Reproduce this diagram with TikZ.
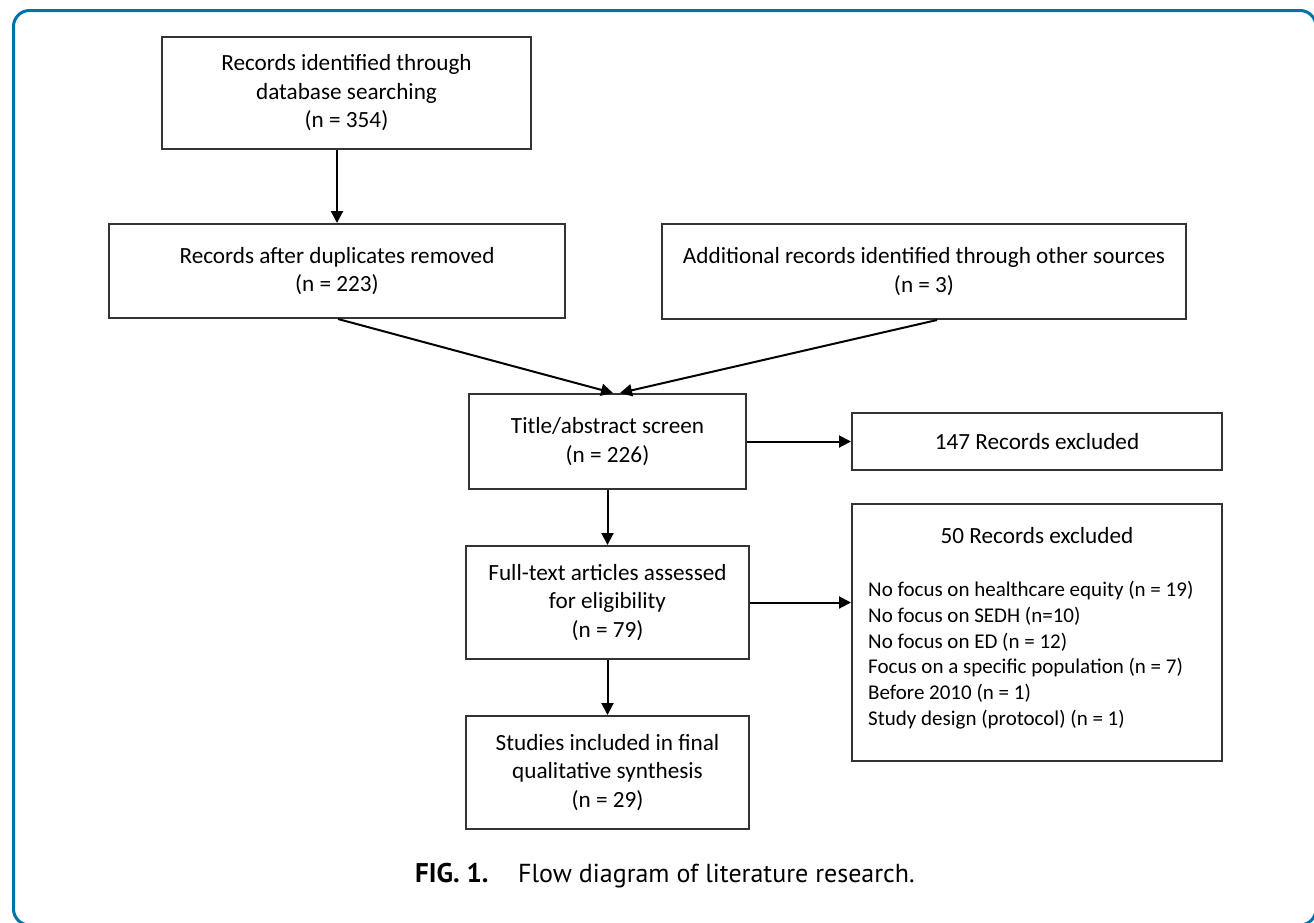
\documentclass[tikz,border=0pt]{standalone}
\usepackage{fontspec}
\setmainfont{Carlito}
\newfontfamily\capfont{PT Sans}
\usetikzlibrary{arrows.meta}
\definecolor{frameblue}{HTML}{0072AD}
\definecolor{boxline}{HTML}{333333}
\begin{document}
\begin{tikzpicture}[x=1pt,y=-1pt,
  box/.style={draw=boxline, line width=2pt, align=center, inner sep=0pt,
    font=\fontsize{23.2}{28.5}\selectfont},
  arr/.style={draw=black, line width=2pt, -{Triangle[length=12pt,width=12pt]}},
  listtext/.style={inner sep=0pt, font=\fontsize{21}{25.8}\selectfont},
  titletext/.style={inner sep=0pt, font=\fontsize{23.2}{28.5}\selectfont},
  capbold/.style={inner sep=0pt, font=\capfont\bfseries\fontsize{27}{30}\selectfont},
  capplain/.style={inner sep=0pt, font=\capfont\fontsize{26}{30}\selectfont}
]
\useasboundingbox (0,0) rectangle (1314,922);
\begin{scope}
  \clip (0,0) rectangle (1314,922);
  \draw[frameblue, line width=3pt, rounded corners=16pt] (13.5,10.5) rectangle (1316,925);
\end{scope}

\node[box, minimum width=369pt, minimum height=112pt] (b1) at (346.5,93)
  {Records identified through\\database searching\\(n = 354)};
\node[box, minimum width=456pt, minimum height=94pt] (b2) at (337,271)
  {Records after duplicates removed\\(n = 223)};
\node[box, minimum width=524pt, minimum height=95pt] (b3) at (924,271.5)
  {Additional records identified through other sources\\(n = 3)};
\node[box, minimum width=277pt, minimum height=95pt] (b4) at (607.5,441.5)
  {Title/abstract screen\\(n = 226)};
\node[box, minimum width=370pt, minimum height=57pt] (b5) at (1037,441.5)
  {147 Records excluded};
\node[box, minimum width=283pt, minimum height=113pt] (b6) at (607.5,602.5)
  {Full-text articles assessed\\for eligibility\\(n = 79)};
\node[box, minimum width=370pt, minimum height=257pt] (b7) at (1037,632.5) {};
\node[titletext, anchor=base] (b7t) at (1037,543) {50 Records excluded};
\node[listtext, anchor=north west, align=left] (b7l) at (868,581)
  {No focus on healthcare equity (n = 19)\\
   No focus on SEDH (n=10)\\
   No focus on ED (n = 12)\\
   Focus on a specific population (n = 7)\\
   Before 2010 (n = 1)\\
   Study design (protocol) (n = 1)};
\node[box, minimum width=283pt, minimum height=113pt] (b8) at (607.5,772.5)
  {Studies included in final\\qualitative synthesis\\(n = 29)};

\draw[arr] (b1.south -| b2.north) -- (b2.north);
\draw[arr] ([xshift=1pt]b2.south) -- ([xshift=5.5pt]b4.north);
\draw[arr] ([xshift=13pt]b3.south) -- ([xshift=12.5pt]b4.north);
\draw[arr] (b4.east) -- (b5.west);
\draw[arr] (b4.south) -- (b6.north);
\draw[arr] (b6.east) -- (b6.east -| b7.west);
\draw[arr] (b6.south) -- (b8.north);

\node[capbold, anchor=base west] (cap1) at (415,882) {FIG. 1.};
\node[capplain, anchor=base west] (cap2) at (518,882) {Flow diagram of literature research.};
\end{tikzpicture}
\end{document}
